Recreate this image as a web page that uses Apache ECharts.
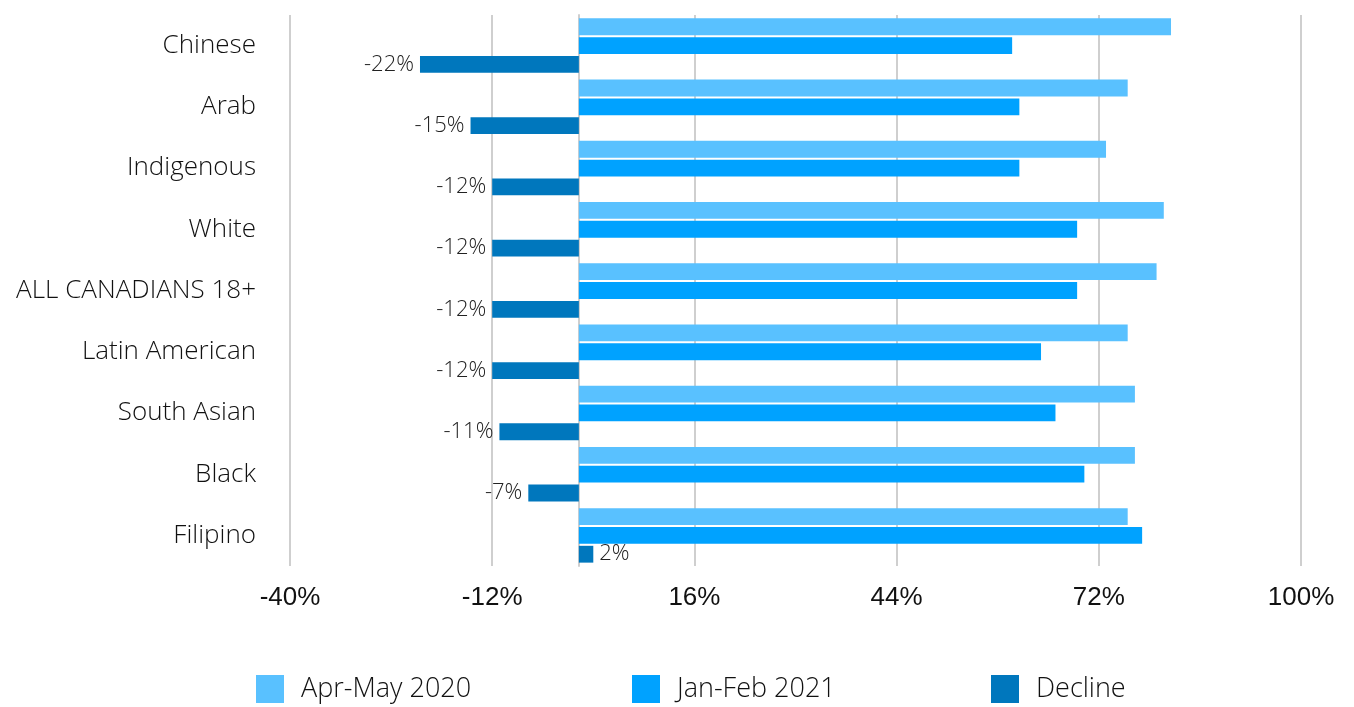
<!DOCTYPE html>
<html>
<head>
<meta charset="utf-8">
<script src="https://cdn.jsdelivr.net/npm/echarts@6/dist/echarts.min.js"></script>
<style>html,body{margin:0;padding:0;background:#fff}#c{width:1354px;height:707px}</style>
</head>
<body>
<div id="c"></div>
<script>
var categories = ["Chinese","Arab","Indigenous","White","ALL CANADIANS 18+","Latin American","South Asian","Black","Filipino"];
var aprMay2020 = [82,76,73,81,80,76,77,77,76];
var janFeb2021 = [60,61,61,69,69,64,66,70,78];
var decline = [-22,-15,-12,-12,-12,-12,-11,-7,2];
var seriesNames = ["Apr-May 2020","Jan-Feb 2021","Decline"];
var colors = ["#59c1ff","#00a2ff","#0077bd"];

var chart = echarts.init(document.getElementById('c'));
var labelFont = "'Open Sans', sans-serif";
var legendLefts = [256, 632, 991];
chart.setOption({
  animation: false,
  grid: {left: 290, right: 53, top: 15, bottom: 141, containLabel: false},
  legend: seriesNames.map(function(n, i){
    return {
      top: 675, left: legendLefts[i], padding: 0, itemWidth: 28, itemHeight: 28,
      icon: 'rect',
      textStyle: {fontFamily: labelFont, fontWeight: 300, fontSize: 27, color: '#111', padding: [0, 0, 0, 12]},
      data: [n]
    };
  }),
  xAxis: {
    type: 'value', min: -40, max: 100, interval: 28,
    axisLabel: {formatter: '{value}%', fontFamily: "Liberation Sans", fontSize: 26, color: '#111', margin: 19},
    axisLine: {show: false}, axisTick: {show: false},
    splitLine: {lineStyle: {color: '#cfcfcf', width: 2}}
  },
  yAxis: {
    type: 'category', data: categories, inverse: true,
    axisLine: {lineStyle: {color: '#cfcfcf', width: 2}},
    axisTick: {show: false},
    axisLabel: {fontFamily: labelFont, fontWeight: 300, fontSize: 26, color: '#111', margin: 34}
  },
  series: [
    {name: seriesNames[0], type: 'bar', data: aprMay2020, itemStyle: {color: colors[0]}, barGap: '12%', barCategoryGap: '11%'},
    {name: seriesNames[1], type: 'bar', data: janFeb2021, itemStyle: {color: colors[1]}},
    {name: seriesNames[2], type: 'bar', itemStyle: {color: colors[2]},
      data: decline.map(function(v){return {value: v, label: {position: v < 0 ? 'left' : 'right'}};}),
      label: {show: true, formatter: '{c}%', fontFamily: labelFont, fontWeight: 300, fontSize: 22, color: '#222', distance: 6}
    }
  ]
});
</script>
</body>
</html>
